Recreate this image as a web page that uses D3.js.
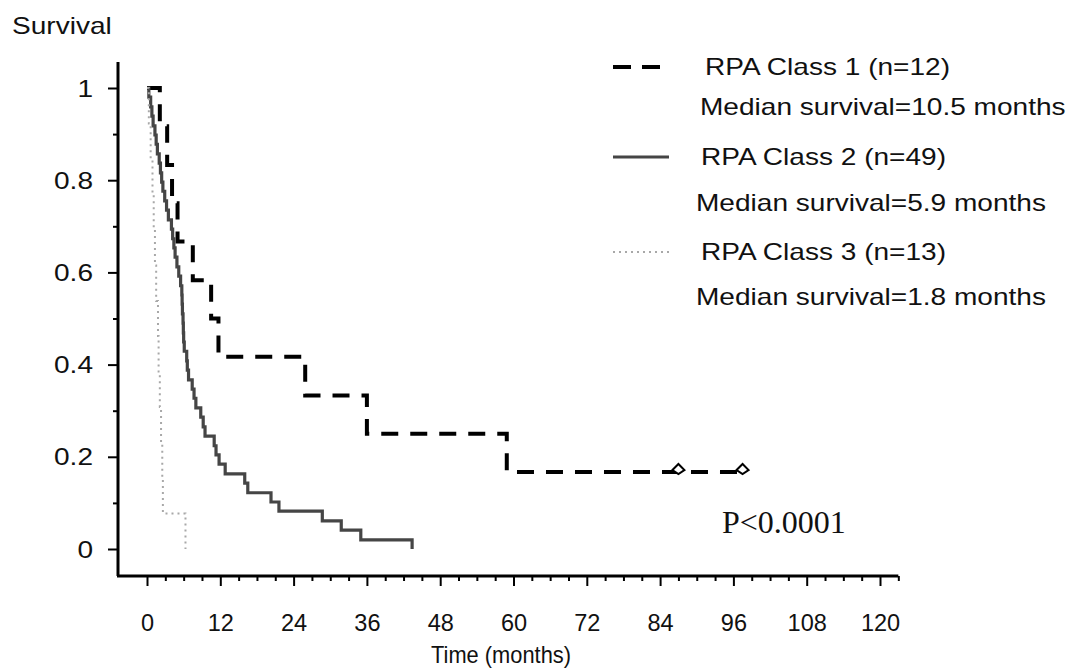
<!DOCTYPE html>
<html>
<head>
<meta charset="utf-8">
<script src="https://cdn.jsdelivr.net/npm/d3@7"></script>
<style>
body { margin: 0; background: #fff; }
svg text { font-family: "Liberation Sans", Arial, sans-serif; fill: #111; }
</style>
</head>
<body>
<div id="chart"></div>
<script>
// survival steps (months, survival after the drop)
var class1Times = [2.1, 3.3, 4.1, 5.0, 7.5, 10.5, 11.7, 25.9, 36.0, 58.9, 97.5]
var class1Surv  = [0.917, 0.833, 0.750, 0.667, 0.583, 0.500, 0.417, 0.333, 0.250, 0.167, 0.167]
var class1Censor = [87, 97.5]

var class2Times = [0.3, 0.6, 0.8, 1.0, 1.3, 1.5, 1.7, 2.0, 2.2, 2.4, 2.6, 2.9, 3.2, 3.5, 4.0, 4.2, 4.4,
    4.6, 4.9, 5.2, 5.5, 5.7, 5.75, 5.8, 5.9, 5.95, 6.0, 6.1, 6.5, 6.6, 6.8, 7.4, 7.7, 8.0, 8.8,
    9.2, 9.5, 11.0, 11.3, 11.8, 12.8, 16.0, 16.5, 20.3, 21.6, 28.7, 31.8, 35.0, 43.4]
var class2Surv  = [0.980, 0.959, 0.939, 0.918, 0.898, 0.878, 0.857, 0.837, 0.816, 0.796, 0.776, 0.755,
    0.735, 0.714, 0.694, 0.673, 0.653, 0.633, 0.612, 0.592, 0.571, 0.551, 0.531, 0.510, 0.490, 0.469,
    0.449, 0.429, 0.408, 0.388, 0.367, 0.347, 0.327, 0.306, 0.286, 0.265, 0.245, 0.224, 0.204, 0.184,
    0.163, 0.143, 0.122, 0.102, 0.082, 0.061, 0.041, 0.020, 0]

var class3Times = [0.3, 0.6, 0.9, 1.1, 1.3, 1.5, 1.8, 1.9, 2.1, 2.3, 2.5, 2.6, 6.3]
var class3Surv  = [0.923, 0.846, 0.769, 0.692, 0.615, 0.538, 0.462, 0.385, 0.308, 0.231, 0.154, 0.077, 0]

var xMajorTicks = [0, 12, 24, 36, 48, 60, 72, 84, 96, 108, 120]
var xMinorTicks = [3, 6, 9, 15, 18, 21, 27, 30, 33, 39, 42, 45, 51, 54, 57, 63, 66, 69, 75, 78, 81,
    87, 90, 93, 99, 102, 105, 111, 114, 117, 123]
var yMajorTicks = [0, 0.2, 0.4, 0.6, 0.8, 1]
var yMinorTicks = [0.1, 0.3, 0.5, 0.7, 0.9]

var legendLabels = ["RPA Class 1 (n=12)", "RPA Class 2 (n=49)", "RPA Class 3 (n=13)"]
var medianLabels = ["Median survival=10.5 months", "Median survival=5.9 months", "Median survival=1.8 months"]
var pLabel = "P<0.0001"

var defaultWidth = 1077
var defaultHeight = 671
var stretch = 1.22   // the scanned lettering is wider than normal

var svg = d3.select("#chart")
    .append("svg")
        .attr("width", defaultWidth)
        .attr("height", defaultHeight)

var x = d3.scaleLinear().domain([0, 120]).range([147, 880])
var y = d3.scaleLinear().domain([0, 1]).range([549, 88])

var axisX0 = 118
var axisY0 = 576

function textAt(sel, tx, ty, sx){
    return sel.attr("transform", "translate(" + tx + "," + ty + ") scale(" + (sx || stretch) + ",1)")
}

function drawAxes(){
    var g = svg.append("g")

    var yMajor = g.append("g")
        .attr("transform", "translate(" + axisX0 + ",0)")
        .call(d3.axisLeft(y).tickValues(yMajorTicks).tickSize(10).tickFormat(d3.format("")))
    var yMinor = g.append("g")
        .attr("transform", "translate(" + axisX0 + ",0)")
        .call(d3.axisLeft(y).tickValues(yMinorTicks).tickSize(5).tickFormat(""))

    var xMajor = g.append("g")
        .attr("transform", "translate(0," + axisY0 + ")")
        .call(d3.axisBottom(x).tickValues(xMajorTicks).tickSize(10))
    var xMinor = g.append("g")
        .attr("transform", "translate(0," + axisY0 + ")")
        .call(d3.axisBottom(x).tickValues(xMinorTicks).tickSize(5).tickFormat(""))

    g.selectAll(".domain").remove()
    g.selectAll(".tick line").attr("stroke", "#000").attr("stroke-width", 2)

    yMajor.selectAll("text")
        .attr("x", 0).attr("dy", null)
        .attr("font-size", 23)
        .attr("font-family", "Liberation Sans, Arial, sans-serif")
        .attr("transform", "translate(-25,8) scale(" + stretch + ",1)")

    xMajor.selectAll("text")
        .attr("y", 0).attr("dy", null)
        .attr("font-size", 24)
        .attr("font-family", "Liberation Sans, Arial, sans-serif")
        .attr("transform", "translate(0,55) scale(0.98,1)")

    // axis lines run a little past the data range
    g.append("line")
        .attr("x1", axisX0).attr("x2", axisX0)
        .attr("y1", 62).attr("y2", axisY0)
        .attr("stroke", "#000").attr("stroke-width", 3)
    g.append("line")
        .attr("x1", axisX0 - 1).attr("x2", x(123))
        .attr("y1", axisY0).attr("y2", axisY0)
        .attr("stroke", "#000").attr("stroke-width", 3)
}

function drawLabels(){
    textAt(svg.append("text"), 12, 34)
        .attr("font-size", 23)
        .text("Survival")

    textAt(svg.append("text"), 501, 663, 0.95)
        .attr("font-size", 23)
        .attr("text-anchor", "middle")
        .text("Time (months)")

    svg.append("text")
        .attr("x", 722)
        .attr("y", 533)
        .attr("font-size", 32)
        .style("font-family", "'Liberation Serif', 'Times New Roman', serif")
        .text(pLabel)
}

function steps(times, surv){
    var pts = [[0, 1]]
    times.forEach(function(t, i){ pts.push([t, surv[i]]) })
    return pts
}

var line = d3.line()
    .x(d => x(d[0]))
    .y(d => y(d[1]))
    .curve(d3.curveStepAfter)

var styles = [
    {stroke: "#000", width: 4, dash: "17,12"},
    {stroke: "#454545", width: 3.2, dash: null},
    {stroke: "#a8a8a8", width: 2, dash: "2,4"}
]

function drawChart(){
    var chart = svg.append("g")
    var series = [
        steps(class1Times, class1Surv),
        steps(class2Times, class2Surv),
        steps(class3Times, class3Surv)
    ]

    chart.selectAll("path.km")
        .data(series)
        .enter()
        .append("path")
            .attr("class", "km")
            .attr("d", line)
            .attr("fill", "none")
            .attr("stroke", (d, i) => styles[i].stroke)
            .attr("stroke-width", (d, i) => styles[i].width)
            .attr("stroke-dasharray", (d, i) => styles[i].dash)

    // censored patients on class 1
    chart.selectAll("path.censor")
        .data(class1Censor)
        .enter()
        .append("path")
            .attr("class", "censor")
            .attr("d", d => {
                var cx = x(d), cy = y(class1Surv[class1Surv.length - 1]) - 2
                return "M" + (cx - 6) + "," + cy + "L" + cx + "," + (cy - 6) + "L" + (cx + 6) + "," + cy + "L" + cx + "," + (cy + 4) + "Z"
            })
            .attr("fill", "#fff")
            .attr("stroke", "#000")
            .attr("stroke-width", 2)
}

function drawLegend(){
    var lineY = [67, 157, 252]
    var labelX = [705, 701, 701]
    var medianY = [115, 211, 305]
    var medianX = [700, 696, 696]

    var legend = svg.append("g")

    legend.selectAll("line")
        .data(styles)
        .enter()
        .append("line")
            .attr("x1", 613)
            .attr("x2", (d, i) => i == 0 ? 661 : 669)
            .attr("y1", (d, i) => lineY[i])
            .attr("y2", (d, i) => lineY[i])
            .attr("stroke", d => d.stroke)
            .attr("stroke-width", d => d.width)
            .attr("stroke-dasharray", (d, i) => i == 0 ? "18,11" : d.dash)

    legendLabels.forEach(function(label, i){
        textAt(legend.append("text"), labelX[i], lineY[i] + 8)
            .attr("font-size", 23)
            .text(label)
        textAt(legend.append("text"), medianX[i], medianY[i])
            .attr("font-size", 23)
            .text(medianLabels[i])
    })
}

drawAxes()
drawChart()
drawLegend()
drawLabels()
</script>
</body>
</html>
